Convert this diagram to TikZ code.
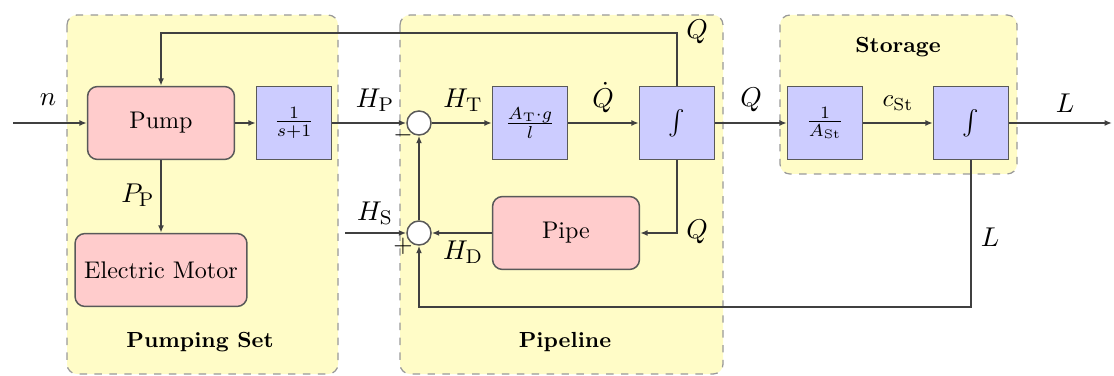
\documentclass[tikz,border=0pt]{standalone}
\usetikzlibrary{arrows.meta}
\begin{document}
\begin{tikzpicture}[x=0.403pt,y=-0.403pt,
  group/.style={draw=gray!80,dashed,fill=yellow!22,rounded corners=4pt,line width=0.5pt},
  bluebox/.style={draw=black!65,fill=blue!20,minimum width=30.2pt,minimum height=29.4pt,inner sep=0pt,line width=0.6pt},
  redbox/.style={draw=black!65,fill=red!20,rounded corners=4pt,minimum height=29.4pt,inner sep=0pt,line width=0.6pt,font=\fontsize{9.7}{11}\selectfont},
  sumnode/.style={circle,draw=black!65,fill=white,minimum size=9.7pt,inner sep=0pt,line width=0.6pt},
  sig/.style={draw=black!75,line width=0.6pt,-{Latex[length=3pt,width=2.4pt]}},
  lbl/.style={font=\fontsize{11}{13}\selectfont},
  grouplbl/.style={font=\fontsize{8.8}{11}\selectfont\bfseries}
]
\useasboundingbox (0,0) rectangle (1114,376);
% groups
\draw[group] (67,15) rectangle (338,374);
\draw[group] (400,15) rectangle (723,374);
\draw[group] (780,15) rectangle (1017,174);
\node[grouplbl] (gps) at (200,342) {Pumping Set};
\node[grouplbl] (gpl) at (565,342) {Pipeline};
\node[grouplbl] (gst) at (898,47) {Storage};
% blocks
\node[redbox,minimum width=59.2pt] (pump) at (161,123) {Pump};
\node[bluebox] (lag) at (294,123) {$\frac{1}{s+1}$};
\node[redbox,minimum width=69.3pt] (motor) at (161,270) {Electric Motor};
\node[sumnode] (s1) at (419,123) {};
\node[sumnode] (s2) at (419,233) {};
\node[bluebox] (atg) at (530,123) {$\frac{A_{\mathrm{T}}\cdot g}{l}$};
\node[bluebox] (int1) at (677,123) {$\int$};
\node[redbox,minimum width=59.2pt] (pipe) at (566,233) {Pipe};
\node[bluebox] (ast) at (825,123) {$\frac{1}{A_{\mathrm{St}}}$};
\node[bluebox] (int2) at (971,123) {$\int$};
\coordinate (nin) at (13,123);
\coordinate (hsin) at (345,233);
\coordinate (lout) at (1112,123);
% connectors
\draw[sig] (nin) -- (pump.west);
\draw[sig] (pump.east) -- (lag.west);
\draw[sig] (lag.east) -- (s1.west);
\draw[sig] (s1.east) -- (atg.west);
\draw[sig] (atg.east) -- (int1.west);
\draw[sig] (int1.east) -- (ast.west);
\draw[sig] (ast.east) -- (int2.west);
\draw[sig] (int2.east) -- (lout);
\draw[sig] (int1.north) |- (161,33) -- (pump.north);
\draw[sig] (int1.south) |- (pipe.east);
\draw[sig] (pipe.west) -- (s2.east);
\draw[sig] (hsin) -- (s2.west);
\draw[sig] (s2.north) -- (s1.south);
\draw[sig,line width=0.75pt] (int2.south) |- (419,307) -- (s2.south);
\draw[sig] (pump.south) -- (motor.north);
% labels
\node[lbl] (ln) at (48,100) {$n$};
\node[lbl] (lhp) at (375,100) {$H_{\mathrm{P}}$};
\node[lbl] (lht) at (463,100) {$H_{\mathrm{T}}$};
\node[lbl] (lqd) at (603,98) {$\dot{Q}$};
\node[lbl] (lq1) at (751,100) {$Q$};
\node (lcst) at (898,103) {$c_{\mathrm{St}}$};
\node[lbl] (ll1) at (1065,103) {$L$};
\node[lbl] (lq2) at (697,32) {$Q$};
\node[lbl] (lq3) at (697,232) {$Q$};
\node[lbl] (lhd) at (463,252) {$H_{\mathrm{D}}$};
\node[lbl] (lhs) at (375,213) {$H_{\mathrm{S}}$};
\node[lbl] (ll2) at (990,237) {$L$};
\node[lbl] (lpp) at (138,195) {$P_{\mathrm{P}}$};
\node (minus) at (403,135) {$-$};
\node (plus) at (403,246) {$+$};
\end{tikzpicture}
\end{document}
